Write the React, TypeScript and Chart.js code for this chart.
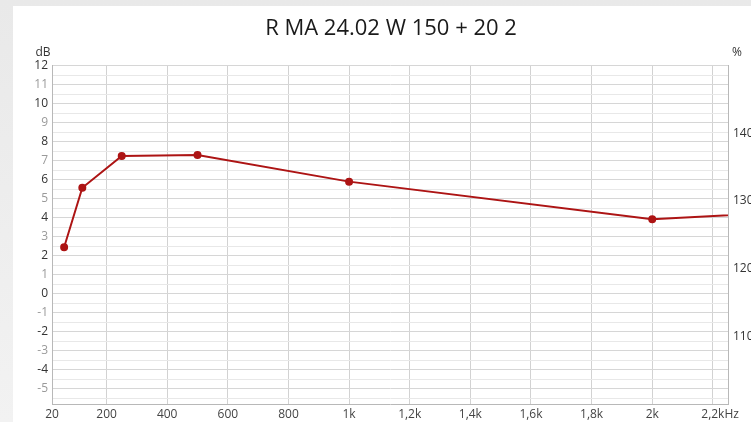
import React, { useEffect, useRef } from "react";
import { Chart, registerables } from "chart.js";

Chart.register(...registerables);

const titleText = "R MA 24.02 W 150 + 20 2";
const freqs = [60, 120, 250, 500, 1000, 2000, 2500];
const levels = [2.45, 5.58, 7.25, 7.3, 5.9, 3.92, 4.34];
const xTickValues = [20, 200, 400, 600, 800, 1000, 1200, 1400, 1600, 1800, 2000, 2200];
const xTickLabels = ["20", "200", "400", "600", "800", "1k", "1,2k", "1,4k", "1,6k", "1,8k", "2k", "2,2k"];
const yGridValues = [-5.5, -5, -4.5, -4, -3.5, -3, -2.5, -2, -1.5, -1, -0.5, 0, 0.5, 1, 1.5, 2, 2.5, 3, 3.5, 4, 4.5, 5, 5.5, 6, 6.5, 7, 7.5, 8, 8.5, 9, 9.5, 10, 10.5, 11, 11.5, 12];
const rightTickValues = [110, 120, 130, 140];
const rightTickLabels = ["110m", "120m", "130m", "140m"];

const FONT = "'Open Sans', 'Noto Sans', sans-serif";

const extraText = {
  id: "extraText",
  afterDraw(chart: any) {
    const ctx = chart.ctx;
    const area = chart.chartArea;
    ctx.save();
    ctx.font = `12px ${FONT}`;
    ctx.fillStyle = "#333";
    ctx.textBaseline = "middle";
    ctx.textAlign = "center";
    ctx.fillText("dB", area.left - 9, area.top - 13);
    ctx.fillText("%", area.right + 9, area.top - 13);
    const xs = chart.scales.x;
    const last = xTickValues[xTickValues.length - 1];
    const lbl = xTickLabels[xTickLabels.length - 1];
    const px = xs.getPixelForValue(last) + ctx.measureText(lbl).width / 2;
    ctx.textAlign = "left";
    ctx.fillStyle = "#444";
    ctx.fillText("Hz", px, area.bottom + 10.5);
    ctx.restore();
  },
};

export default function App() {
  const ref = useRef<HTMLCanvasElement>(null);
  useEffect(() => {
    document.documentElement.style.overflow = "hidden";
    document.body.style.overflow = "hidden";
    if (!ref.current) return;
    const chart = new Chart(ref.current, {
      type: "line",
      data: {
        datasets: [
          {
            data: freqs.map((f, i) => ({ x: f, y: levels[i] })),
            borderColor: "#ad1414",
            backgroundColor: "#ad1414",
            borderWidth: 2,
            pointRadius: 3,
            pointHoverRadius: 3,
            tension: 0,
            yAxisID: "y",
          },
        ],
      },
      options: {
        animation: false,
        responsive: false,
        events: [],
        layout: { padding: 0 },
        plugins: {
          legend: { display: false },
          tooltip: { enabled: false },
          title: {
            display: true,
            text: titleText,
            color: "#1a1a1a",
            font: { family: FONT, size: 22, weight: "normal" },
            padding: { top: 10, bottom: 23.3 },
          },
        },
        scales: {
          x: {
            type: "linear",
            min: 20,
            max: 2250,
            afterBuildTicks: (s: any) => {
              s.ticks = xTickValues.map((v) => ({ value: v }));
            },
            afterFit: (s: any) => {
              s.height = 18;
            },
            ticks: {
              padding: 3,
              color: "#444",
              maxRotation: 0,
              autoSkip: false,
              font: { family: FONT, size: 12 },
              callback: (v: any) => {
                const i = xTickValues.indexOf(Number(v));
                return i >= 0 ? xTickLabels[i] : "";
              },
            },
            grid: { color: "#d2d2d2", drawTicks: false, lineWidth: 1 },
            border: { color: "#b8b8b8" },
          },
          y: {
            type: "linear",
            position: "left",
            min: -5.8,
            max: 12,
            afterBuildTicks: (s: any) => {
              s.ticks = yGridValues.map((v) => ({ value: v }));
            },
            afterFit: (s: any) => {
              s.width = 39;
            },
            ticks: {
              padding: 4,
              autoSkip: false,
              font: { family: FONT, size: 12 },
              color: (c: any) => {
                const v = c.tick ? c.tick.value : 0;
                return Math.abs(v) % 2 === 0 ? "#333" : "#9a9a9a";
              },
              callback: (v: any) => (Number.isInteger(Number(v)) ? String(v) : ""),
            },
            grid: {
              drawTicks: false,
              color: (c: any) => {
                const v = c.tick ? c.tick.value : 0;
                return Number.isInteger(v) ? "#d6d6d6" : "#e8e8e8";
              },
            },
            border: { color: "#b8b8b8" },
          },
          y1: {
            type: "linear",
            position: "right",
            min: 100,
            max: 150,
            afterBuildTicks: (s: any) => {
              s.ticks = rightTickValues.map((v) => ({ value: v }));
            },
            afterFit: (s: any) => {
              s.width = 41;
            },
            ticks: {
              padding: 5,
              autoSkip: false,
              color: "#333",
              font: { family: FONT, size: 12 },
              callback: (v: any) => {
                const i = rightTickValues.indexOf(Number(v));
                return i >= 0 ? rightTickLabels[i] : "";
              },
            },
            grid: { drawOnChartArea: false, drawTicks: false },
            border: { color: "#b8b8b8" },
          },
        },
      },
      plugins: [extraText],
    } as any);
    return () => chart.destroy();
  }, []);

  return (
    <div
      style={{
        position: "fixed",
        left: 0,
        top: 0,
        width: 751,
        height: 422,
        overflow: "hidden",
        background: "linear-gradient(180deg, #e9e9e9, #f2f2f2)",
      }}
    >
      <div
        style={{
          position: "absolute",
          left: 13,
          top: 6,
          width: 760,
          height: 420,
          background: "#ffffff",
        }}
      >
        <canvas ref={ref} width={756} height={416} style={{ display: "block" }} />
      </div>
    </div>
  );
}
